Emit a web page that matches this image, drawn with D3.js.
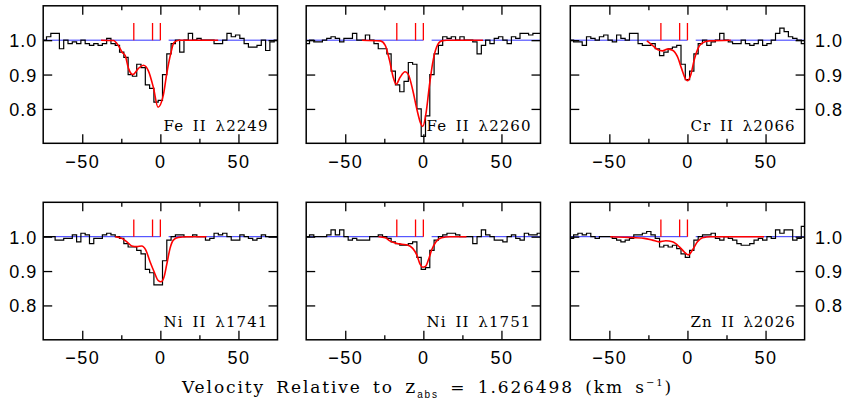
<!DOCTYPE html>
<html><head><meta charset="utf-8">
<script src="https://cdn.jsdelivr.net/npm/d3@7"></script>
<style>body{margin:0;background:#fff;} svg{display:block}</style>
</head><body><svg id="c" width="845" height="402"></svg>
<script>
// ---------- DATA ----------
const velocity = [-74.25,-71.5,-68.75,-66,-63.25,-60.5,-57.75,-55,-52.25,-49.5,-46.75,-44,-41.25,-38.5,-35.75,-33,-30.25,-27.5,-24.75,-22,-19.25,-16.5,-13.75,-11,-8.25,-5.5,-2.75,0,2.75,5.5,8.25,11,13.75,16.5,19.25,22,24.75,27.5,30.25,33,35.75,38.5,41.25,44,46.75,49.5,52.25,55,57.75,60.5,63.25,66,68.75,71.5,74.25];
const binWidth = 2.75;

const fluxFe2249 = [1.00,1.01,1.02,1.02,0.975,1.00,0.99,0.995,0.99,1.00,0.99,0.985,0.99,0.985,0.99,1.005,0.99,0.985,0.965,0.95,0.90,0.895,0.93,0.92,0.87,0.86,0.82,0.825,0.90,0.96,0.99,1.00,0.965,1.00,1.02,1.00,1.005,1.00,1.00,1.00,0.99,0.99,1.00,1.02,1.01,1.015,1.005,0.99,0.98,0.98,0.985,1.00,0.97,0.995,1.00];
const fluxFe2260 = [0.99,1.00,0.995,0.995,1.00,1.005,1.01,1.005,0.995,1.005,1.005,1.02,1.00,1.00,1.015,1.00,0.99,0.975,0.975,0.96,0.91,0.87,0.85,0.88,0.935,0.93,0.80,0.72,0.78,0.90,0.96,0.985,1.01,1.005,1.01,1.00,1.01,1.00,1.00,0.995,0.96,0.985,1.00,0.99,1.005,1.01,1.00,0.99,1.01,1.005,1.02,1.02,1.015,1.02,1.02];
const fluxCr2066 = [1.00,0.995,0.995,0.985,1.01,1.005,1.00,1.01,1.015,1.00,0.995,1.015,1.005,1.00,1.02,1.02,0.99,0.985,0.985,0.99,0.975,0.955,0.965,0.975,0.98,0.985,0.93,0.885,0.91,0.96,0.99,1.00,0.985,0.995,1.00,1.02,1.00,0.995,0.99,0.99,1.00,0.99,0.985,0.99,1.00,0.985,0.99,1.00,1.02,1.035,1.025,1.01,1.005,1.00,0.99];
const fluxNi1741 = [1.00,1.00,1.00,0.99,0.99,0.995,0.995,1.005,0.985,1.01,1.005,0.98,0.995,0.995,1.005,1.01,1.005,1.00,0.995,0.98,0.97,0.97,0.96,0.95,0.905,0.895,0.86,0.86,0.93,0.99,1.00,1.005,1.005,1.00,1.00,1.005,1.00,1.00,0.99,0.995,1.01,1.005,1.01,1.00,0.99,0.99,1.005,1.00,0.995,0.99,0.995,1.005,1.00,1.00,1.00];
const fluxNi1751 = [1.00,1.005,1.00,1.00,1.00,1.005,1.02,1.005,1.02,1.00,0.99,0.995,0.99,0.99,0.99,1.00,1.00,1.005,1.00,0.995,0.985,0.98,0.975,0.975,0.98,0.985,0.94,0.905,0.91,0.96,0.99,1.00,1.005,1.01,1.01,1.005,1.00,1.00,1.00,0.98,1.00,1.02,1.005,1.00,0.99,0.99,0.985,1.00,1.005,0.995,0.99,1.01,1.005,1.005,1.01];
const fluxZn2026 = [0.995,1.005,1.01,1.005,1.01,1.00,0.995,1.00,1.00,1.00,0.995,0.99,0.985,0.99,0.995,1.005,1.005,1.01,1.015,1.005,0.995,0.97,0.975,0.97,0.975,0.965,0.95,0.94,0.96,0.99,1.00,1.005,1.005,1.01,0.995,0.99,1.00,0.995,0.99,0.98,0.975,0.975,0.98,0.99,0.995,0.99,1.00,0.995,1.02,1.01,1.02,1.02,0.99,0.995,1.03];

const modelVelFe2249  = [-38,-30,-27,-24.5,-22.5,-20.4,-17.6,-14,-10.8,-7.6,-4.5,-1.5,1.9,4,6.6,8.7,12,37];
const modelFluxFe2249 = [1.0,0.999,0.985,0.965,0.955,0.918,0.90,0.918,0.927,0.91,0.863,0.805,0.84,0.90,0.96,0.993,1.0,1.0];
const modelVelFe2260  = [-39.3,-27.6,-24.4,-21.7,-19.1,-17.4,-14.9,-11.7,-9.6,-6.8,-4.2,-1.7,-0.4,1.7,3.8,5.9,8.5,11.7,14.9,38.2];
const modelFluxFe2260 = [1.0,0.998,0.985,0.942,0.889,0.872,0.892,0.908,0.90,0.855,0.80,0.758,0.749,0.787,0.865,0.932,0.98,0.998,1.0,1.0];
const modelVelCr2066  = [-26,-22.4,-19.2,-16,-12.8,-9.6,-6.4,-3.8,-1.1,0,2.1,4.3,6.8,9.6,13.9,27.7];
const modelFluxCr2066 = [0.998,0.985,0.973,0.969,0.974,0.971,0.952,0.918,0.886,0.882,0.899,0.942,0.976,0.992,0.998,1.0];
const modelVelNi1741  = [-28.9,-24.6,-21.4,-18.3,-15,-11.9,-9.3,-6.6,-4,-1.3,0.4,2.3,4,6.2,8.3,11.5,16.8,29.5];
const modelFluxNi1741 = [1.0,0.995,0.985,0.973,0.971,0.973,0.961,0.927,0.898,0.872,0.869,0.882,0.917,0.966,0.99,0.998,1.0,1.0];
const modelVelNi1751  = [-28.7,-24.4,-21.2,-17.4,-13.8,-10.2,-6.8,-4.2,-2.1,-0.4,1.3,3.2,5.3,8.1,11.7,17,27.6];
const modelFluxNi1751 = [1.0,0.997,0.987,0.981,0.978,0.976,0.966,0.947,0.92,0.911,0.913,0.932,0.961,0.985,0.997,1.0,1.0];
const modelVelZn2026  = [-49.4,-38.4,-27.7,-22.4,-18.1,-13.9,-9.6,-5.3,-2.1,0.6,3.2,6.4,9.6,14.9,49];
const modelFluxZn2026 = [1.0,0.998,0.995,0.99,0.985,0.988,0.985,0.971,0.956,0.947,0.961,0.985,0.997,1.0,1.0];

const panelLabels = ["Fe II λ2249","Fe II λ2260","Cr II λ2066","Ni II λ1741","Ni II λ1751","Zn II λ2026"];
const componentVel = [-17, -5, 0];
const continuumSegments = [[-75, 0], [5.3, 75]];
const xTicks = [-50, -25, 0, 25, 50];
const xMajor = [-50, 0, 50];
const yTicks = [0.8, 0.9, 1.0];

// ---------- LAYOUT ----------
const svg = d3.select("#c");
const colX = [43.2, 306.2, 570.3];
const rowY = [5.8, 202.3];
const pw = 234.3, ph = 137.5;

const panels = [
  {flux: fluxFe2249, mv: modelVelFe2249, mf: modelFluxFe2249},
  {flux: fluxFe2260, mv: modelVelFe2260, mf: modelFluxFe2260},
  {flux: fluxCr2066, mv: modelVelCr2066, mf: modelFluxCr2066},
  {flux: fluxNi1741, mv: modelVelNi1741, mf: modelFluxNi1741},
  {flux: fluxNi1751, mv: modelVelNi1751, mf: modelFluxNi1751},
  {flux: fluxZn2026, mv: modelVelZn2026, mf: modelFluxZn2026}
];

const numFont = "'Liberation Sans', Arial, sans-serif";
const serifFont = "'DejaVu Serif', serif";

function fitWidth(sel, target) {
  const node = sel.node();
  const n = node.getNumberOfChars();
  const len = node.getComputedTextLength();
  sel.attr("letter-spacing", ((target - len) / n).toFixed(3));
}

panels.forEach((p, i) => {
  const col = i % 3, row = Math.floor(i / 3);
  const x0 = colX[col], y0 = rowY[row];
  const x = d3.scaleLinear().domain([-75, 75]).range([0, pw]);
  const y = d3.scaleLinear().domain([0.70, 1.10]).range([ph, 0]);
  const g = svg.append("g").attr("transform", `translate(${x0},${y0})`);
  const clipId = "clip" + i;
  g.append("clipPath").attr("id", clipId).append("rect").attr("width", pw).attr("height", ph);
  const plot = g.append("g").attr("clip-path", `url(#${clipId})`);

  // continuum
  continuumSegments.forEach(s => {
    plot.append("line").attr("x1", x(s[0])).attr("x2", x(s[1]))
      .attr("y1", y(1)).attr("y2", y(1))
      .attr("stroke", "#3333ff").attr("stroke-width", 1);
  });

  // histogram
  const stepPts = [];
  velocity.forEach((v, k) => {
    stepPts.push([v - binWidth / 2, p.flux[k]]);
    stepPts.push([v + binWidth / 2, p.flux[k]]);
  });
  plot.append("path").datum(stepPts)
    .attr("d", d3.line().x(d => x(d[0])).y(d => y(d[1])))
    .attr("fill", "none").attr("stroke", "#000").attr("stroke-width", 1.2);

  // model
  const mpts = p.mv.map((v, k) => [v, p.mf[k]]);
  plot.append("path").datum(mpts)
    .attr("d", d3.line().x(d => x(d[0])).y(d => y(d[1])).curve(d3.curveMonotoneX))
    .attr("fill", "none").attr("stroke", "#ff0000").attr("stroke-width", 1.6);

  // component ticks
  componentVel.forEach(v => {
    plot.append("line").attr("x1", x(v)).attr("x2", x(v))
      .attr("y1", y(1.0)).attr("y2", y(1.05))
      .attr("stroke", "#ff0000").attr("stroke-width", 1.3);
  });

  // axes
  const styleAxis = a => {
    a.select(".domain").remove();
    a.selectAll(".tick line").attr("stroke", "#000").attr("stroke-width", 1.3);
    a.selectAll("text").attr("font-family", numFont).attr("font-size", 18).attr("fill", "#000").attr("letter-spacing", 1.5);
  };
  const xb = g.append("g").attr("transform", `translate(0,${ph})`)
    .call(d3.axisBottom(x).tickValues(xTicks).tickSize(-9)
      .tickFormat(d => xMajor.includes(d) ? d3.format("d")(d).replace("-", "−") : ""));
  styleAxis(xb);
  xb.selectAll(".tick line").attr("y2", d => xMajor.includes(d) ? -9 : -4.5);
  xb.selectAll("text").attr("y", 24.5).attr("dy", 0);

  const xt = g.append("g").call(d3.axisTop(x).tickValues(xTicks).tickSize(-9).tickFormat(""));
  styleAxis(xt);
  xt.selectAll(".tick line").attr("y2", d => xMajor.includes(d) ? 9 : 4.5);

  const yl = g.append("g").call(d3.axisLeft(y).tickValues(yTicks).tickSize(-9)
    .tickFormat(col === 0 ? d3.format(".1f") : ""));
  styleAxis(yl);
  yl.selectAll("text").attr("x", -6).attr("dy", 0).attr("y", 6.5).attr("letter-spacing", 1);

  const yr = g.append("g").attr("transform", `translate(${pw},0)`)
    .call(d3.axisRight(y).tickValues(yTicks).tickSize(-9)
      .tickFormat(col === 2 ? d3.format(".1f") : ""));
  styleAxis(yr);
  yr.selectAll("text").attr("x", 10.5).attr("dy", 0).attr("y", 6.5).attr("letter-spacing", 1);

  // frame
  g.append("rect").attr("width", pw).attr("height", ph)
    .attr("fill", "none").attr("stroke", "#000").attr("stroke-width", 1.5);

  // label
  const lblW = 105;
  const lbl = g.append("text").attr("x", pw - 9 - lblW).attr("y", ph - 12.5)
    .attr("font-family", serifFont).attr("font-size", 15).attr("fill", "#000")
    .attr("word-spacing", 3)
    .text(panelLabels[i]);
  fitWidth(lbl, lblW);
});

// x-axis title
const title = svg.append("text").attr("x", 182).attr("y", 392.5)
  .attr("font-family", serifFont).attr("font-size", 17).attr("fill", "#000")
  .attr("word-spacing", 4);
title.append("tspan").text("Velocity Relative to ");
title.append("tspan").attr("font-size", 19).text("z");
title.append("tspan").attr("font-family", numFont).attr("font-size", 10).attr("dy", 5).text("abs");
title.append("tspan").attr("dy", -5).text(" = 1.626498 (km s");
title.append("tspan").attr("font-size", 10).attr("dy", -7).text("−1");
title.append("tspan").attr("dy", 7).text(")");
fitWidth(title, 491);
</script></body></html>
